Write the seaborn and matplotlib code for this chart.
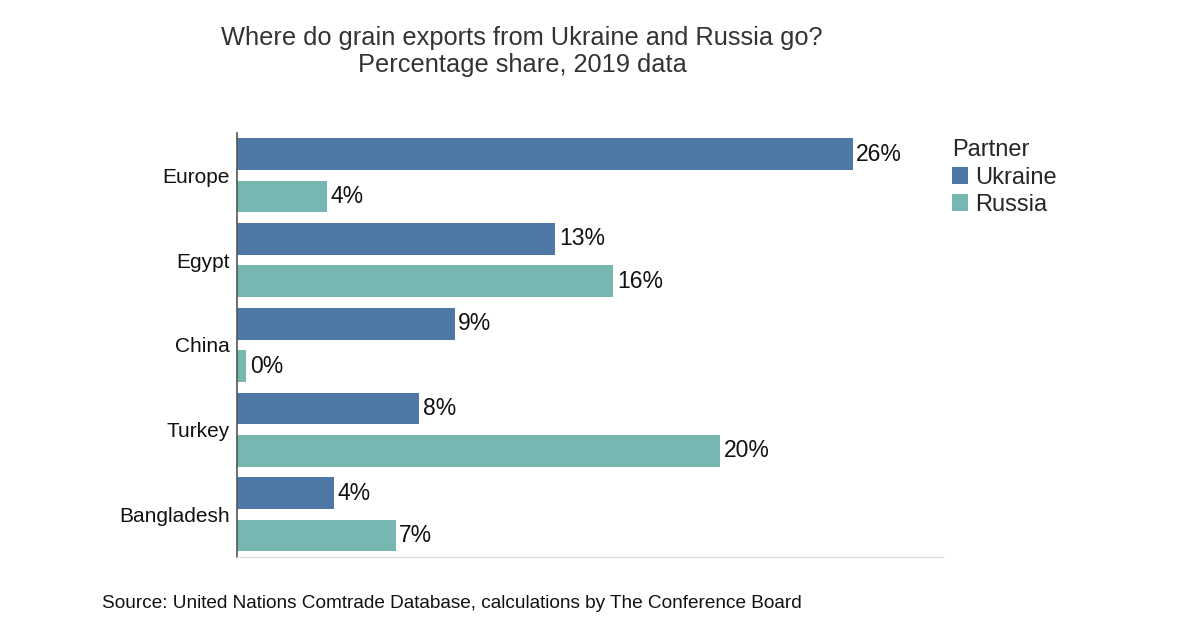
import pandas as pd
import matplotlib.pyplot as plt
import seaborn as sns

# values (percentage share, 2019)
partners = ['Europe', 'Egypt', 'China', 'Turkey', 'Bangladesh']
ukraine = [26.0, 13.45, 9.2, 7.7, 4.1]
russia = [3.8, 15.9, 0.4, 20.4, 6.7]
series = ['Ukraine', 'Russia']
colors = ['#4e79a7', '#76b7b2']

df = pd.DataFrame({
    'region': partners * 2,
    'share': ukraine + russia,
    'Partner': ['Ukraine'] * len(partners) + ['Russia'] * len(partners),
})

sns.set_style('white')
plt.rcParams['font.family'] = ['Liberation Sans', 'DejaVu Sans']

fig = plt.figure(figsize=(12, 6.27), dpi=100)
ax = fig.add_axes([0.1975, 0.112, 0.588, 0.676])

sns.barplot(data=df, y='region', x='share', hue='Partner', hue_order=series,
            palette=colors, order=partners, orient='h', width=1.0, gap=0.25,
            saturation=1, linewidth=0, ax=ax, legend=True)

for cont in ax.containers:
    ax.bar_label(cont, labels=[f'{v:.0f}%' for v in cont.datavalues],
                 padding=2.5, fontsize=16.5, color='#111111')

ax.set_xlim(0, 29.8)
ax.set_ylim(4.5, -0.5)
ax.set_xlabel('')
ax.set_ylabel('')
ax.set_xticks([])
ax.tick_params(axis='y', length=0, labelsize=15, pad=5)
for lab in ax.get_yticklabels():
    lab.set_color('#111111')

for s in ['top', 'right']:
    ax.spines[s].set_visible(False)
ax.spines['left'].set_color('#555555')
ax.spines['left'].set_linewidth(1.2)
ax.spines['bottom'].set_color('#e0e0e0')
ax.spines['bottom'].set_linewidth(1.0)

leg = ax.legend(title='Partner', loc='upper left', bbox_to_anchor=(0.993, 1.018),
                frameon=False, fontsize=17, title_fontsize=17,
                handlelength=0.7, handleheight=0.7, handletextpad=0.3,
                labelspacing=0.22, borderaxespad=0.2)
leg._legend_box.align = 'left'

fig.text(0.435, 0.918, 'Where do grain exports from Ukraine and Russia go?\nPercentage share, 2019 data',
         ha='center', va='center', fontsize=18.3, color='#333333', linespacing=1.15)
fig.text(0.085, 0.038, 'Source: United Nations Comtrade Database, calculations by The Conference Board',
         ha='left', va='center', fontsize=13.7, color='#111111')

fig.savefig('out.png', dpi=100)
